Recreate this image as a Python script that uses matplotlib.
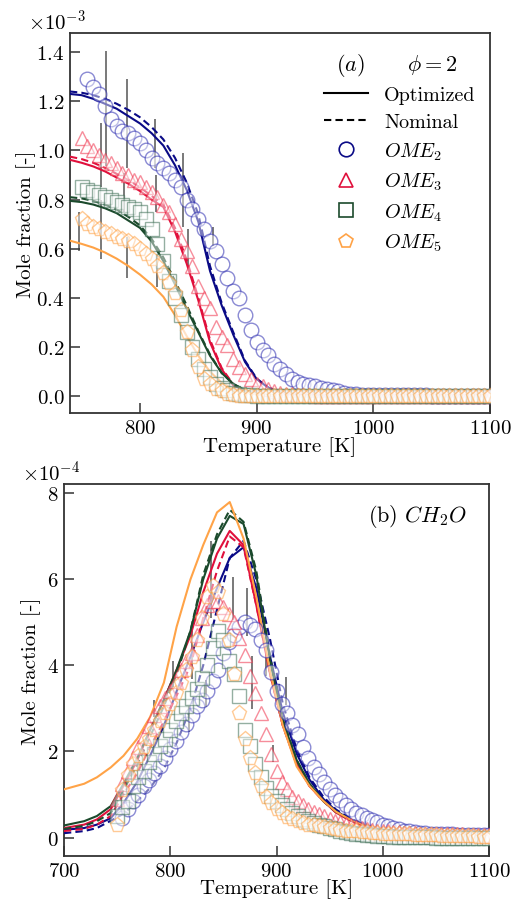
import numpy as np
import matplotlib
matplotlib.use("Agg")
import matplotlib.pyplot as plt
from matplotlib.lines import Line2D
from matplotlib.ticker import MultipleLocator, ScalarFormatter
from matplotlib.colors import to_rgba

plt.rcParams['font.family'] = 'serif'
plt.rcParams['font.serif'] = ['cmr10']
plt.rcParams['mathtext.fontset'] = 'cm'
plt.rcParams['axes.formatter.use_mathtext'] = True
plt.rcParams['axes.unicode_minus'] = False

nan = np.nan

# ---------------- experimental temperature grid ----------------
T_exp = [750, 755, 760, 765, 770, 775, 780, 785, 790, 795,
         800, 805, 810, 815, 820, 825, 830, 835, 840, 845,
         850, 855, 860, 865, 870, 875, 880, 885, 890, 895,
         900, 905, 910, 915, 920, 925, 930, 935, 940, 945,
         950, 955, 960, 965, 970, 975, 980, 985, 990, 995,
         1000, 1005, 1010, 1015, 1020, 1025, 1030, 1035, 1040, 1045,
         1050, 1055, 1060, 1065, 1070, 1075, 1080, 1085, 1090, 1095,
         1100]

# ---------------- panel (a): fuel mole fraction, x1e-3 ----------------
a_ome2 = [nan, 1.29, 1.26, 1.23, 1.18, 1.13, 1.10, 1.08, 1.07, 1.05,
          1.03, 1.00, 0.97, 0.95, 0.93, 0.91, 0.88, 0.85, 0.80, 0.76,
          0.72, 0.68, 0.63, 0.59, 0.54, 0.48, 0.43, 0.40, 0.33, 0.27,
          0.22, 0.19, 0.17, 0.13, 0.11, 0.09, 0.07, 0.06, 0.05, 0.045,
          0.04, 0.035, 0.03, 0.025, 0.02, 0.015, 0.01, 0.008, 0.006, 0.005,
          0.004, 0.004, 0.004, 0.004, 0.004, 0.004, 0.004, 0.004, 0.004, 0.004,
          0.003, 0.003, 0.003, 0.003, 0.003, 0.003, 0.003, 0.003, 0.003, 0.003,
          0.003]
a_ome3 = [1.05, 1.02, 1.00, 0.98, 0.96, 0.95, 0.93, 0.91, 0.90, 0.88,
          0.87, 0.85, 0.83, 0.81, 0.78, 0.75, 0.70, 0.64, 0.59, 0.53,
          0.45, 0.40, 0.36, 0.28, 0.24, 0.21, 0.15, 0.12, 0.09, 0.07,
          0.05, 0.04, 0.03, 0.02, 0.015, 0.01, 0.008, 0.006, 0.005, 0.004,
          0.003, 0.003, 0.003, 0.003, 0.003, 0.003, 0.003, 0.003, 0.003, 0.003,
          0.002, 0.002, 0.002, 0.002, 0.002, 0.002, 0.002, 0.002, 0.002, 0.002,
          0.002, 0.002, 0.002, 0.002, 0.002, 0.002, 0.002, 0.002, 0.002, 0.002,
          0.002]
a_ome4 = [0.85, 0.84, 0.83, 0.82, 0.81, 0.80, 0.79, 0.78, 0.77, 0.76,
          0.75, 0.72, 0.68, 0.62, 0.55, 0.47, 0.40, 0.33, 0.26, 0.20,
          0.15, 0.11, 0.08, 0.05, 0.035, 0.025, 0.015, 0.01, 0.006, 0.004,
          0.003, 0.003, 0.003, 0.003, 0.003, 0.003, 0.003, 0.003, 0.003, 0.003,
          0.002, 0.002, 0.002, 0.002, 0.002, 0.002, 0.002, 0.002, 0.002, 0.002,
          0.001, 0.001, 0.001, 0.001, 0.001, 0.001, 0.001, 0.001, 0.001, 0.001,
          0.001, 0.001, 0.001, 0.001, 0.001, 0.001, 0.001, 0.001, 0.001, 0.001,
          0.001]
a_ome5 = [0.72, 0.70, 0.69, 0.68, 0.67, 0.66, 0.65, 0.64, 0.63, 0.62,
          0.60, 0.58, 0.56, 0.53, 0.50, 0.46, 0.42, 0.35, 0.26, 0.19,
          0.12, 0.07, 0.05, 0.03, 0.02, 0.01, 0.005, 0.003, 0.002, 0.001,
          0.0, 0.0, 0.0, 0.0, 0.0, 0.0, 0.0, 0.0, 0.0, 0.0,
          0.0, 0.0, 0.0, 0.0, 0.0, 0.0, 0.0, 0.0, 0.0, 0.0,
          0.0, 0.0, 0.0, 0.0, 0.0, 0.0, 0.0, 0.0, 0.0, 0.0,
          0.0, 0.0, 0.0, 0.0, 0.0, 0.0, 0.0, 0.0, 0.0, 0.0,
          0.0]

T_mod_a = [740, 750, 760, 770, 780, 790, 800, 810, 820, 830, 840, 850,
           860, 870, 880, 890, 900, 910, 920, 930, 940, 960, 1000, 1100]
a_ome2_opt = [1.23, 1.225, 1.21, 1.19, 1.17, 1.14, 1.11, 1.07, 1.02, 0.94, 0.84, 0.71,
              0.51, 0.37, 0.25, 0.14, 0.07, 0.035, 0.017, 0.008, 0.004, 0.0, 0.0, 0.0]
a_ome2_nom = [1.24, 1.235, 1.225, 1.21, 1.19, 1.165, 1.135, 1.095, 1.045, 0.97, 0.87, 0.74,
              0.53, 0.38, 0.26, 0.145, 0.072, 0.035, 0.017, 0.008, 0.004, 0.0, 0.0, 0.0]
a_ome3_opt = [0.962, 0.95, 0.935, 0.915, 0.89, 0.865, 0.835, 0.80, 0.77, 0.67, 0.54, 0.39,
              0.22, 0.11, 0.045, 0.02, 0.008, 0.003, 0.0, 0.0, 0.0, 0.0, 0.0, 0.0]
a_ome3_nom = [0.975, 0.965, 0.95, 0.93, 0.905, 0.88, 0.85, 0.815, 0.78, 0.685, 0.555, 0.40,
              0.23, 0.115, 0.048, 0.02, 0.008, 0.003, 0.0, 0.0, 0.0, 0.0, 0.0, 0.0]
a_ome4_opt = [0.795, 0.79, 0.78, 0.765, 0.745, 0.715, 0.685, 0.63, 0.55, 0.455, 0.355, 0.26,
              0.165, 0.095, 0.05, 0.025, 0.012, 0.005, 0.0, 0.0, 0.0, 0.0, 0.0, 0.0]
a_ome4_nom = [0.81, 0.805, 0.795, 0.78, 0.76, 0.73, 0.695, 0.64, 0.565, 0.47, 0.37, 0.265,
              0.17, 0.095, 0.05, 0.025, 0.012, 0.005, 0.0, 0.0, 0.0, 0.0, 0.0, 0.0]
a_ome5_opt = [0.633, 0.62, 0.605, 0.585, 0.56, 0.53, 0.495, 0.455, 0.405, 0.33, 0.245, 0.165,
              0.10, 0.055, 0.03, 0.015, 0.007, 0.003, 0.0, 0.0, 0.0, 0.0, 0.0, 0.0]

# error bars (a): temperature, centre, half-width (x1e-3)
eb_a_T = [748, 767, 767, 771, 786, 789, 789, 813, 814, 815, 837, 841, 863]
eb_a_c = [0.67, 0.98, 0.68, 1.17, 0.83, 1.11, 0.565, 1.03, 0.825, 0.51, 0.84, 0.60, 0.65]
eb_a_e = [0.08, 0.13, 0.12, 0.235, 0.08, 0.18, 0.085, 0.10, 0.075, 0.065, 0.15, 0.08, 0.04]

# ---------------- panel (b): CH2O mole fraction, x1e-4 ----------------
b_ome2 = [nan, 0.45, 0.66, 0.85, 1.0, 1.2, 1.33, 1.5, 1.67, 1.85,
          2.05, 2.25, 2.45, 2.65, 2.85, 3.05, 3.2, 3.4, 3.65, 3.9,
          4.3, 4.55, 4.7, 4.9, 5.0, 4.95, 4.85, 4.6, 4.35, 3.85,
          3.4, 3.1, 2.9, 2.62, 2.4, 2.1, 1.85, 1.65, 1.47, 1.28,
          1.12, 1.0, 0.87, 0.75, 0.66, 0.58, 0.52, 0.46, 0.4, 0.35,
          0.3, 0.26, 0.22, 0.19, 0.16, 0.14, 0.12, 0.11, 0.1, 0.09,
          0.08, 0.08, 0.07, 0.07, 0.06, 0.06, 0.06, 0.05, 0.05, 0.05,
          0.05]
b_ome3 = [0.9, 1.25, 1.55, 1.85, 2.1, 2.35, 2.6, 2.85, 3.06, 3.25,
          3.4, 3.65, 3.9, 4.1, 4.3, 4.7, 5.1, 5.4, 5.5, 5.5,
          5.35, 5.2, 5.0, 4.65, 4.25, 3.76, 3.37, 2.9, 2.4, 1.95,
          1.55, 1.3, 1.12, 0.95, 0.85, 0.75, 0.67, 0.6, 0.54, 0.49,
          0.44, 0.39, 0.35, 0.31, 0.28, 0.25, 0.22, 0.2, 0.18, 0.16,
          0.15, 0.14, 0.13, 0.12, 0.11, 0.1, 0.1, 0.09, 0.09, 0.08,
          0.08, 0.08, 0.07, 0.07, 0.07, 0.07, 0.06, 0.06, 0.06, 0.06,
          0.06]
b_ome4 = [0.5, 0.7, 0.85, 1.2, 1.4, 1.55, 1.75, 1.95, 2.13, 2.3,
          2.5, 2.7, 2.9, 3.06, 3.25, 3.45, 3.7, 4.0, 4.4, 4.8,
          4.6, 4.1, 3.8, 3.3, 2.5, 2.13, 1.7, 1.4, 1.15, 0.97,
          0.85, 0.75, 0.66, 0.58, 0.5, 0.44, 0.39, 0.34, 0.3, 0.26,
          0.22, 0.19, 0.16, 0.13, 0.11, 0.09, 0.07, 0.06, 0.05, 0.04,
          0.03, 0.03, 0.02, 0.02, 0.02, 0.01, 0.01, 0.01, 0.01, 0.01,
          0.0, 0.0, 0.0, 0.0, 0.0, 0.0, 0.0, 0.0, 0.0, 0.0,
          0.0]
b_ome5 = [0.3, 1.1, 1.45, 1.7, 1.9, 2.1, 2.3, 2.5, 2.7, 2.9,
          3.1, 3.35, 3.6, 3.9, 4.2, 4.6, 5.1, 5.6, 5.85, 5.7,
          5.2, 4.6, 3.8, 2.9, 2.3, 1.85, 1.5, 1.2, 0.95, 0.8,
          0.66, 0.56, 0.48, 0.43, 0.38, 0.34, 0.3, 0.28, 0.26, 0.24,
          0.22, 0.2, 0.18, 0.16, 0.15, 0.14, 0.13, 0.12, 0.11, 0.1,
          0.09, 0.09, 0.08, 0.08, 0.07, 0.07, 0.06, 0.06, 0.05, 0.05,
          0.05, 0.04, 0.04, 0.04, 0.03, 0.03, 0.03, 0.03, 0.02, 0.02,
          0.02]

T_mod_b = [700, 719, 731, 744, 756, 769, 781, 794, 806, 819, 831, 844, 856, 869, 881,
           894, 906, 919, 931, 944, 956, 969, 981, 994, 1006, 1031, 1056, 1081, 1100]
b_ome2_opt = [0.18, 0.22, 0.30, 0.45, 0.8, 1.3, 1.9, 2.6, 3.4, 4.2, 5.0, 5.8, 6.5, 6.75, 5.8,
              4.2, 2.9, 1.95, 1.35, 0.9, 0.62, 0.42, 0.3, 0.2, 0.15, 0.1, 0.08, 0.07, 0.06]
b_ome2_nom = [0.1, 0.15, 0.22, 0.39, 0.55, 0.85, 1.15, 1.6, 2.2, 3.0, 4.0, 5.3, 6.5, 6.9, 6.0,
              4.6, 3.1, 2.05, 1.4, 0.95, 0.65, 0.45, 0.32, 0.22, 0.16, 0.11, 0.09, 0.07, 0.06]
b_ome3_opt = [0.22, 0.3, 0.42, 0.66, 1.2, 1.8, 2.5, 3.2, 3.9, 4.7, 5.7, 6.6, 7.13, 6.8, 5.4,
              3.8, 2.6, 1.7, 1.2, 0.85, 0.58, 0.4, 0.28, 0.2, 0.15, 0.1, 0.08, 0.07, 0.06]
b_ome3_nom = [0.15, 0.2, 0.3, 0.5, 1.0, 1.5, 2.1, 2.7, 3.3, 4.0, 5.1, 6.2, 7.0, 6.75, 5.4,
              3.8, 2.6, 1.7, 1.2, 0.85, 0.58, 0.4, 0.28, 0.2, 0.15, 0.1, 0.08, 0.07, 0.06]
b_ome4_opt = [0.28, 0.38, 0.5, 0.73, 1.25, 1.85, 2.5, 3.2, 3.9, 4.8, 6.0, 6.95, 7.48, 7.29, 6.1,
              4.1, 2.7, 1.8, 1.25, 0.85, 0.6, 0.42, 0.3, 0.2, 0.15, 0.1, 0.08, 0.07, 0.06]
b_ome4_nom = [0.2, 0.27, 0.38, 0.57, 1.1, 1.7, 2.35, 3.05, 3.8, 4.8, 6.1, 7.05, 7.62, 7.34, 6.2,
              4.2, 2.75, 1.8, 1.25, 0.85, 0.6, 0.42, 0.3, 0.2, 0.15, 0.1, 0.08, 0.07, 0.06]
b_ome5_opt = [1.12, 1.25, 1.4, 1.63, 1.9, 2.3, 2.8, 3.6, 4.9, 6.0, 6.8, 7.56, 7.8, 6.95, 5.6,
              3.85, 2.6, 1.65, 1.2, 0.85, 0.6, 0.42, 0.3, 0.2, 0.15, 0.1, 0.08, 0.06, 0.05]

eb_b_T = [785, 803, 818, 820, 834, 838, 859, 872, 877, 890, 897, 909]
eb_b_c = [3.0, 3.8, 2.75, 4.25, 3.35, 6.0, 5.55, 5.25, 3.6, 4.1, 1.95, 3.4]
eb_b_e = [0.2, 0.3, 0.3, 0.56, 0.32, 0.9, 0.5, 0.56, 0.62, 0.35, 0.2, 0.33]

labels = [r'$OME_2$', r'$OME_3$', r'$OME_4$', r'$OME_5$']
markers = ['o', '^', 's', 'p']
line_cols = ['#0a0a86', '#e0103c', '#1b4a2c', '#ffa347']
mark_cols = ['#2b2bb0', '#f0304a', '#3d6e55', '#ffa040']

FS_TICK = 15
FS_LAB = 15

# ---------------- figure ----------------
fig = plt.figure(figsize=(5.12, 9.04), dpi=100)
axA = fig.add_axes([70/512, 1-414/904, 420/512, 380/904])
axB = fig.add_axes([64/512, 1-857/904, 425/512, 372/904])

def style(ax):
    for s in ax.spines.values():
        s.set_color('#333333')
        s.set_linewidth(1.3)
    ax.tick_params(direction='in', length=7, width=1.1, color='#333333',
                   labelsize=FS_TICK, pad=4, top=False, right=False)

def draw(ax, scale, series, mods, Tm, ebT, ebc, ebe):
    ax.errorbar(np.array(ebT), np.array(ebc)*scale, yerr=np.array(ebe)*scale,
                fmt='none', ecolor='#555555', elinewidth=1.3, alpha=0.85, zorder=1)
    for i, (opt, nom) in enumerate(mods):
        ax.plot(Tm, np.array(opt)*scale, '-', color=line_cols[i], lw=1.5, zorder=3)
        if nom is not None:
            ax.plot(Tm, np.array(nom)*scale, '--', color=line_cols[i], lw=1.5,
                    dashes=(3.5, 2), zorder=3)
    for i, ys in enumerate(series):
        ax.plot(T_exp, np.array(ys)*scale, linestyle='none', marker=markers[i],
                ms=10.5 if markers[i] != 'p' else 11,
                mfc=to_rgba('white', 0.45), mec=to_rgba(mark_cols[i], 0.55),
                mew=1.0, zorder=4)

draw(axA, 1e-3, [a_ome2, a_ome3, a_ome4, a_ome5],
     [(a_ome2_opt, a_ome2_nom), (a_ome3_opt, a_ome3_nom),
      (a_ome4_opt, a_ome4_nom), (a_ome5_opt, None)],
     T_mod_a, eb_a_T, eb_a_c, eb_a_e)
draw(axB, 1e-4, [b_ome2, b_ome3, b_ome4, b_ome5],
     [(b_ome2_opt, b_ome2_nom), (b_ome3_opt, b_ome3_nom),
      (b_ome4_opt, b_ome4_nom), (b_ome5_opt, None)],
     T_mod_b, eb_b_T, eb_b_c, eb_b_e)

# axes A
style(axA)
axA.set_xlim(740, 1100)
axA.set_ylim(-0.068e-3, 1.478e-3)
axA.xaxis.set_major_locator(MultipleLocator(100))
axA.yaxis.set_major_locator(MultipleLocator(0.2e-3))
fmt = ScalarFormatter(useMathText=True)
fmt.set_powerlimits((-2, 2))
axA.yaxis.set_major_formatter(fmt)
axA.set_xlabel('Temperature [K]', fontsize=FS_LAB, labelpad=0)
axA.set_ylabel('Mole fraction [-]', fontsize=FS_LAB, labelpad=0)
axA.yaxis.get_offset_text().set_fontsize(FS_TICK)
axA.yaxis.get_offset_text().set_x(-0.1)

axA.text(0.667, 0.918, r'$(a)$', transform=axA.transAxes, fontsize=16,
         ha='center', va='center')
axA.text(0.862, 0.918, r'$\phi = 2$', transform=axA.transAxes, fontsize=16,
         ha='center', va='center')

handles = [Line2D([], [], color='black', lw=1.5, ls='-'),
           Line2D([], [], color='black', lw=1.5, ls='--', dashes=(3.5, 2))]
for i in range(4):
    handles.append(Line2D([], [], ls='none', marker=markers[i], ms=10.5,
                          mfc='none', mec=line_cols[i], mew=1.2))
axA.legend(handles, ['Optimized', 'Nominal'] + labels, loc='upper left',
           bbox_to_anchor=(0.585, 0.882), frameon=False, fontsize=14.5,
           handlelength=2.2, handletextpad=0.8, labelspacing=0.45,
           borderaxespad=0)

# axes B
style(axB)
axB.set_xlim(700, 1100)
axB.set_ylim(-0.43e-4, 8.22e-4)
axB.xaxis.set_major_locator(MultipleLocator(100))
axB.yaxis.set_major_locator(MultipleLocator(2e-4))
fmtb = ScalarFormatter(useMathText=True)
fmtb.set_powerlimits((-2, 2))
axB.yaxis.set_major_formatter(fmtb)
axB.set_xlabel('Temperature [K]', fontsize=FS_LAB, labelpad=-1)
axB.set_ylabel('Mole fraction [-]', fontsize=FS_LAB, labelpad=4)
axB.yaxis.get_offset_text().set_fontsize(FS_TICK)
axB.yaxis.get_offset_text().set_x(-0.1)
axB.text(0.832, 0.914, r'(b) $CH_2O$', transform=axB.transAxes, fontsize=16,
         ha='center', va='center')

fig.savefig('out.png', dpi=100)
